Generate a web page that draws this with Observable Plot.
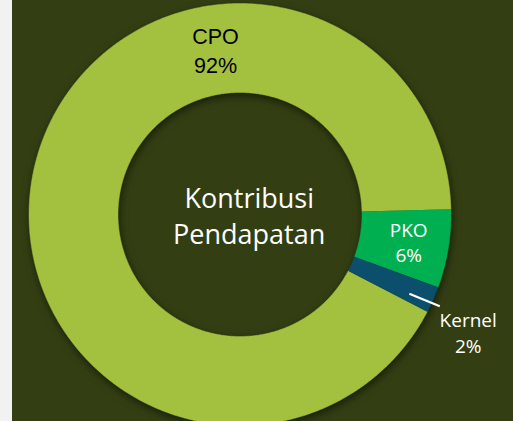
<!DOCTYPE html>
<html>
<head>
<meta charset="utf-8">
<script src="https://cdn.jsdelivr.net/npm/d3@7"></script>
<script src="https://cdn.jsdelivr.net/npm/@observablehq/plot@0.6"></script>
<style>
  html, body { margin: 0; padding: 0; background: #f2f2f2; overflow: hidden; }
  #chart { position: absolute; left: 12px; top: 0; width: 501px; height: 421px; background: #333f13; }
  #chart svg { display: block; background: #333f13; }
</style>
</head>
<body>
<div id="chart"></div>
<script>
// ---- data ----
const categories = ["CPO", "PKO", "Kernel"];
const values = [92, 6, 2];
const percentLabels = ["92%", "6%", "2%"];
const colors = ["#a3c03e", "#00b050", "#0b4f6c"];
const centerTitle = ["Kontribusi", "Pendapatan"];

// ---- geometry (pixels relative to donut centre) ----
const W = 501, H = 421;
const cx = 227.5, cy = 214;
const R = 211, r = 122;
const startAngle = 117.4 * Math.PI / 180;

const pie = d3.pie().value(d => d.value).sort(null)
  .startAngle(startAngle).endAngle(startAngle + 2 * Math.PI);
const slices = pie(categories.map((c, i) => ({cat: c, value: values[i], pct: percentLabels[i]})));

// ring polygons in data coordinates
const ringPts = [];
for (const s of slices) {
  const n = Math.max(2, Math.ceil((s.endAngle - s.startAngle) / (0.4 * Math.PI / 180)));
  const pts = [];
  for (let k = 0; k <= n; k++) {
    const a = s.startAngle + (s.endAngle - s.startAngle) * k / n;
    pts.push({cat: s.data.cat, x: R * Math.sin(a), y: R * Math.cos(a)});
  }
  for (let k = n; k >= 0; k--) {
    const a = s.startAngle + (s.endAngle - s.startAngle) * k / n;
    pts.push({cat: s.data.cat, x: r * Math.sin(a), y: r * Math.cos(a)});
  }
  ringPts.push(...pts);
}

const sliceOf = c => slices.find(s => s.data.cat === c);
const polar = (a, rad) => ({x: rad * Math.sin(a), y: rad * Math.cos(a)});

// label placement
const pko = sliceOf("PKO");
const pkoPos = polar((pko.startAngle + pko.endAngle) / 2, 169);
const kern = sliceOf("Kernel");
const kMid = (kern.startAngle + kern.endAngle) / 2;
const leadA = polar(kMid + 1.3 * Math.PI / 180, 187);
const leadB = {x: 199.8, y: -91.7};

const labels = [
  {text: `${categories[0]}\n${percentLabels[0]}`, x: -24.5, y: 165, fill: "#000000", font: "Liberation Sans, Arial, sans-serif", size: 21.5, lh: 1.32},
  {text: `${categories[1]}\n${percentLabels[1]}`, x: pkoPos.x + 2, y: pkoPos.y + 1, fill: "#ffffff", font: "Open Sans, sans-serif", size: 19, lh: 1.32},
  {text: `${categories[2]}\n${percentLabels[2]}`, x: 228.2, y: -117, fill: "#ffffff", font: "Open Sans, sans-serif", size: 19, lh: 1.35}
];

const plot = Plot.plot({
  width: W, height: H,
  margin: 0,
  x: {domain: [-cx, W - cx], axis: null},
  y: {domain: [-(H - cy), cy], axis: null},
  color: {domain: categories, range: colors},
  style: {background: "#333f13", overflow: "visible"},
  marks: [
    Plot.line(ringPts, {x: "x", y: "y", z: "cat", fill: "cat", stroke: "cat", strokeWidth: 0.5, curve: "linear"}),
    Plot.link([{x1: leadA.x, y1: leadA.y, x2: leadB.x, y2: leadB.y}], {x1: "x1", y1: "y1", x2: "x2", y2: "y2", stroke: "#ffffff", strokeWidth: 2.2}),
    ...labels.map(l => Plot.text([l], {x: "x", y: "y", text: "text", fill: l.fill, fontSize: l.size, fontFamily: l.font, lineHeight: l.lh, lineAnchor: "middle", textAnchor: "middle"})),
    Plot.text([centerTitle.join("\n")], {x: () => 9.2, y: () => 0, text: d => d, fill: "#ffffff", fontSize: 27, fontFamily: "Open Sans, sans-serif", lineHeight: 1.32, lineAnchor: "middle", textAnchor: "middle"})
  ]
});

const ring = plot.querySelector('g[aria-label="line"]');
if (ring) ring.style.filter = "drop-shadow(1px 3px 4px rgba(0,0,0,0.55))";
document.getElementById("chart").appendChild(plot);
</script>
</body>
</html>
